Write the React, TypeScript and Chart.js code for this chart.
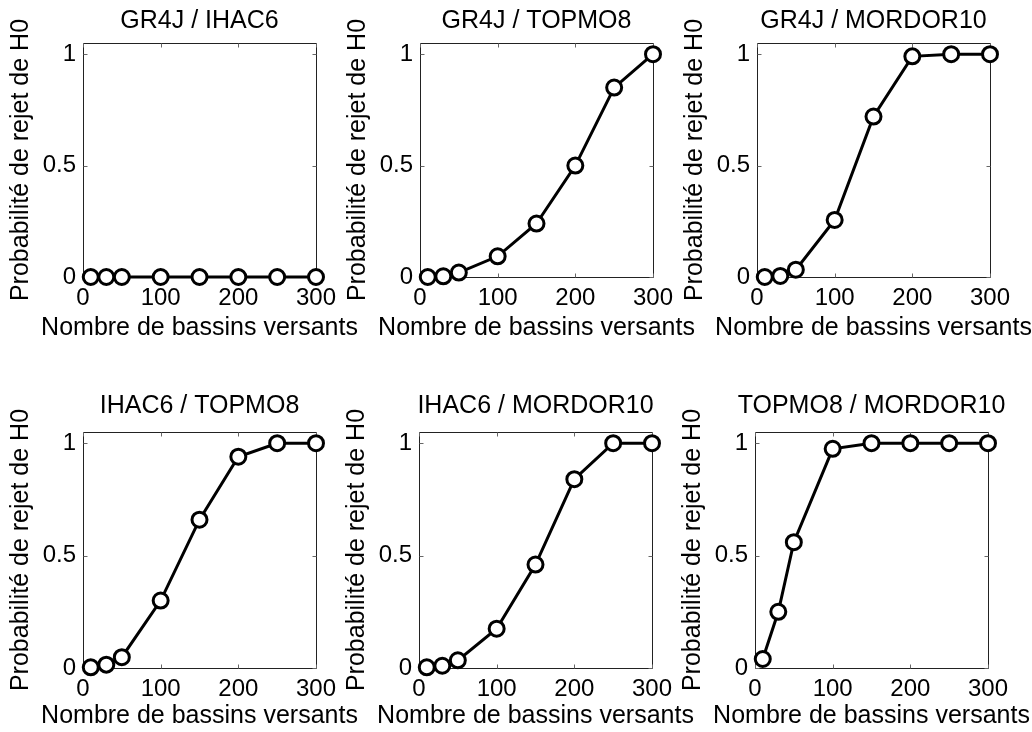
import React, { useEffect, useRef } from "react";
import { Chart, registerables } from "chart.js";

Chart.register(...registerables);

// ---------- data ----------
const basins = [10, 30, 50, 100, 150, 200, 250, 300];

const gr4jIhac6 = [0, 0, 0, 0, 0, 0, 0, 0];
const gr4jTopmo8 = [0, 0.003, 0.02, 0.093, 0.24, 0.5, 0.85, 1.0];
const gr4jMordor10 = [0, 0.005, 0.033, 0.256, 0.72, 0.99, 1.0, 1.0];
const ihac6Topmo8 = [0.003, 0.015, 0.048, 0.3, 0.66, 0.94, 1.0, 1.0];
const ihac6Mordor10 = [0.003, 0.01, 0.034, 0.175, 0.46, 0.84, 1.0, 1.0];
const topmo8Mordor10 = [0.04, 0.25, 0.56, 0.975, 1.0, 1.0, 1.0, 1.0];

const titles = [
  "GR4J / IHAC6",
  "GR4J / TOPMO8",
  "GR4J / MORDOR10",
  "IHAC6 / TOPMO8",
  "IHAC6 / MORDOR10",
  "TOPMO8 / MORDOR10",
];
const seriesList = [gr4jIhac6, gr4jTopmo8, gr4jMordor10, ihac6Topmo8, ihac6Mordor10, topmo8Mordor10];

const xTicks = [0, 100, 200, 300];
const yTicks = [0, 0.5, 1];
const xLabel = "Nombre de bassins versants";
const yLabel = "Probabilité de rejet de H0";

// ---------- layout (pixels) ----------
const FONT_FAMILY = '"Liberation Sans", Arial, Helvetica, sans-serif';
const TICK_FONT_SIZE = 24;
const LABEL_FONT_SIZE = 25;
const Y_AXIS_W = 83;
const PLOT_W = 233;
const RIGHT_PAD = 45;
const TOP_PAD = 43;

const panelLayout = [
  { left: 83, top: 43, h: 234, titleOff: 15.5, xlabOff: 58, xAxisH: 62 },
  { left: 420, top: 43, h: 234, titleOff: 15.5, xlabOff: 58, xAxisH: 62 },
  { left: 757, top: 43, h: 234, titleOff: 15.5, xlabOff: 58, xAxisH: 62 },
  { left: 83, top: 432, h: 236, titleOff: 19, xlabOff: 55, xAxisH: 60 },
  { left: 419, top: 432, h: 236, titleOff: 19, xlabOff: 55, xAxisH: 60 },
  { left: 755, top: 432, h: 236, titleOff: 19, xlabOff: 55, xAxisH: 60 },
];

const matlabPlugin = {
  id: "matlab",
  beforeDatasetsDraw(chart: any) {
    const { ctx, chartArea } = chart;
    const { left, right, top, bottom } = chartArea;
    const xs = chart.scales.x;
    const ys = chart.scales.y;
    ctx.save();
    ctx.strokeStyle = "#222";
    ctx.lineWidth = 1;
    const l = Math.round(left) + 0.5;
    const r = Math.round(right) + 0.5;
    const t = Math.round(top) + 0.5;
    const b = Math.round(bottom) + 0.5;
    ctx.beginPath();
    ctx.rect(l, t, r - l, b - t);
    ctx.stroke();
    ctx.strokeStyle = "#666";
    ctx.beginPath();
    const tl = 4;
    xTicks.forEach((v) => {
      const px = Math.round(xs.getPixelForValue(v)) + 0.5;
      ctx.moveTo(px, b);
      ctx.lineTo(px, b - tl);
      ctx.moveTo(px, t);
      ctx.lineTo(px, t + tl);
    });
    yTicks.forEach((v) => {
      const py = Math.round(ys.getPixelForValue(v)) + 0.5;
      ctx.moveTo(l, py);
      ctx.lineTo(l + tl, py);
      ctx.moveTo(r, py);
      ctx.lineTo(r - tl, py);
    });
    ctx.stroke();
    ctx.restore();
  },
  afterDraw(chart: any, _args: any, opts: any) {
    const { ctx, chartArea } = chart;
    const { left, right, top, bottom } = chartArea;
    ctx.save();
    ctx.fillStyle = "#000";
    ctx.font = `${LABEL_FONT_SIZE}px ${FONT_FAMILY}`;
    ctx.textAlign = "center";
    ctx.textBaseline = "alphabetic";
    const cx = (left + right) / 2;
    ctx.fillText(opts.title, cx, top - opts.titleOff);
    ctx.fillText(xLabel, cx, bottom + opts.xlabOff);
    ctx.translate(left - 55, (top + bottom) / 2);
    ctx.rotate(-Math.PI / 2);
    ctx.fillText(yLabel, 0, 0);
    ctx.restore();
  },
};

function Panel({ idx }: { idx: number }) {
  const ref = useRef<HTMLCanvasElement | null>(null);
  const lay = panelLayout[idx];
  const width = Y_AXIS_W + PLOT_W + RIGHT_PAD;
  const height = TOP_PAD + lay.h + lay.xAxisH;

  useEffect(() => {
    if (!ref.current) return;
    const values = seriesList[idx];
    const tickFont = { family: FONT_FAMILY, size: TICK_FONT_SIZE, lineHeight: 1 };
    const chart = new Chart(ref.current, {
      type: "line",
      data: {
        datasets: [
          {
            data: basins.map((x, i) => ({ x, y: values[i] })),
            borderColor: "#000",
            borderWidth: 3,
            pointRadius: 7.5,
            pointBorderWidth: 3,
            pointBackgroundColor: "#fff",
            pointBorderColor: "#000",
            pointStyle: "circle",
            tension: 0,
            clip: false as any,
          },
        ],
      },
      options: {
        responsive: false,
        maintainAspectRatio: false,
        animation: false,
        events: [],
        layout: { padding: { top: TOP_PAD, left: 0, right: RIGHT_PAD, bottom: 0 } },
        plugins: {
          legend: { display: false },
          tooltip: { enabled: false },
          title: { display: false },
          matlab: { title: titles[idx], titleOff: lay.titleOff, xlabOff: lay.xlabOff },
        } as any,
        scales: {
          x: {
            type: "linear",
            min: 0,
            max: 300,
            grid: { display: false, drawTicks: false },
            border: { display: false },
            afterBuildTicks: (s: any) => {
              s.ticks = xTicks.map((v) => ({ value: v }));
            },
            afterFit: (s: any) => {
              s.height = lay.xAxisH;
            },
            ticks: {
              padding: 9,
              maxRotation: 0,
              minRotation: 0,
              autoSkip: false,
              color: "#000",
              font: tickFont,
              callback: (v: any) => String(v),
            },
          },
          y: {
            type: "linear",
            min: 0,
            max: 1.05,
            grid: { display: false, drawTicks: false },
            border: { display: false },
            afterBuildTicks: (s: any) => {
              s.ticks = yTicks.map((v) => ({ value: v }));
            },
            afterFit: (s: any) => {
              s.width = Y_AXIS_W;
            },
            ticks: {
              padding: 7,
              autoSkip: false,
              color: "#000",
              font: tickFont,
              callback: (v: any) => String(v),
            },
          },
        },
      } as any,
      plugins: [matlabPlugin as any],
    });
    return () => chart.destroy();
  }, [idx]);

  return (
    <canvas
      ref={ref}
      width={width}
      height={height}
      style={{
        position: "absolute",
        left: lay.left - Y_AXIS_W,
        top: lay.top - TOP_PAD,
        width,
        height,
      }}
    />
  );
}

export default function App() {
  return (
    <div
      style={{
        position: "fixed",
        left: 0,
        top: 0,
        width: 1032,
        height: 732,
        overflow: "hidden",
        background: "#fff",
      }}
    >
      {titles.map((_, i) => (
        <Panel key={i} idx={i} />
      ))}
    </div>
  );
}
